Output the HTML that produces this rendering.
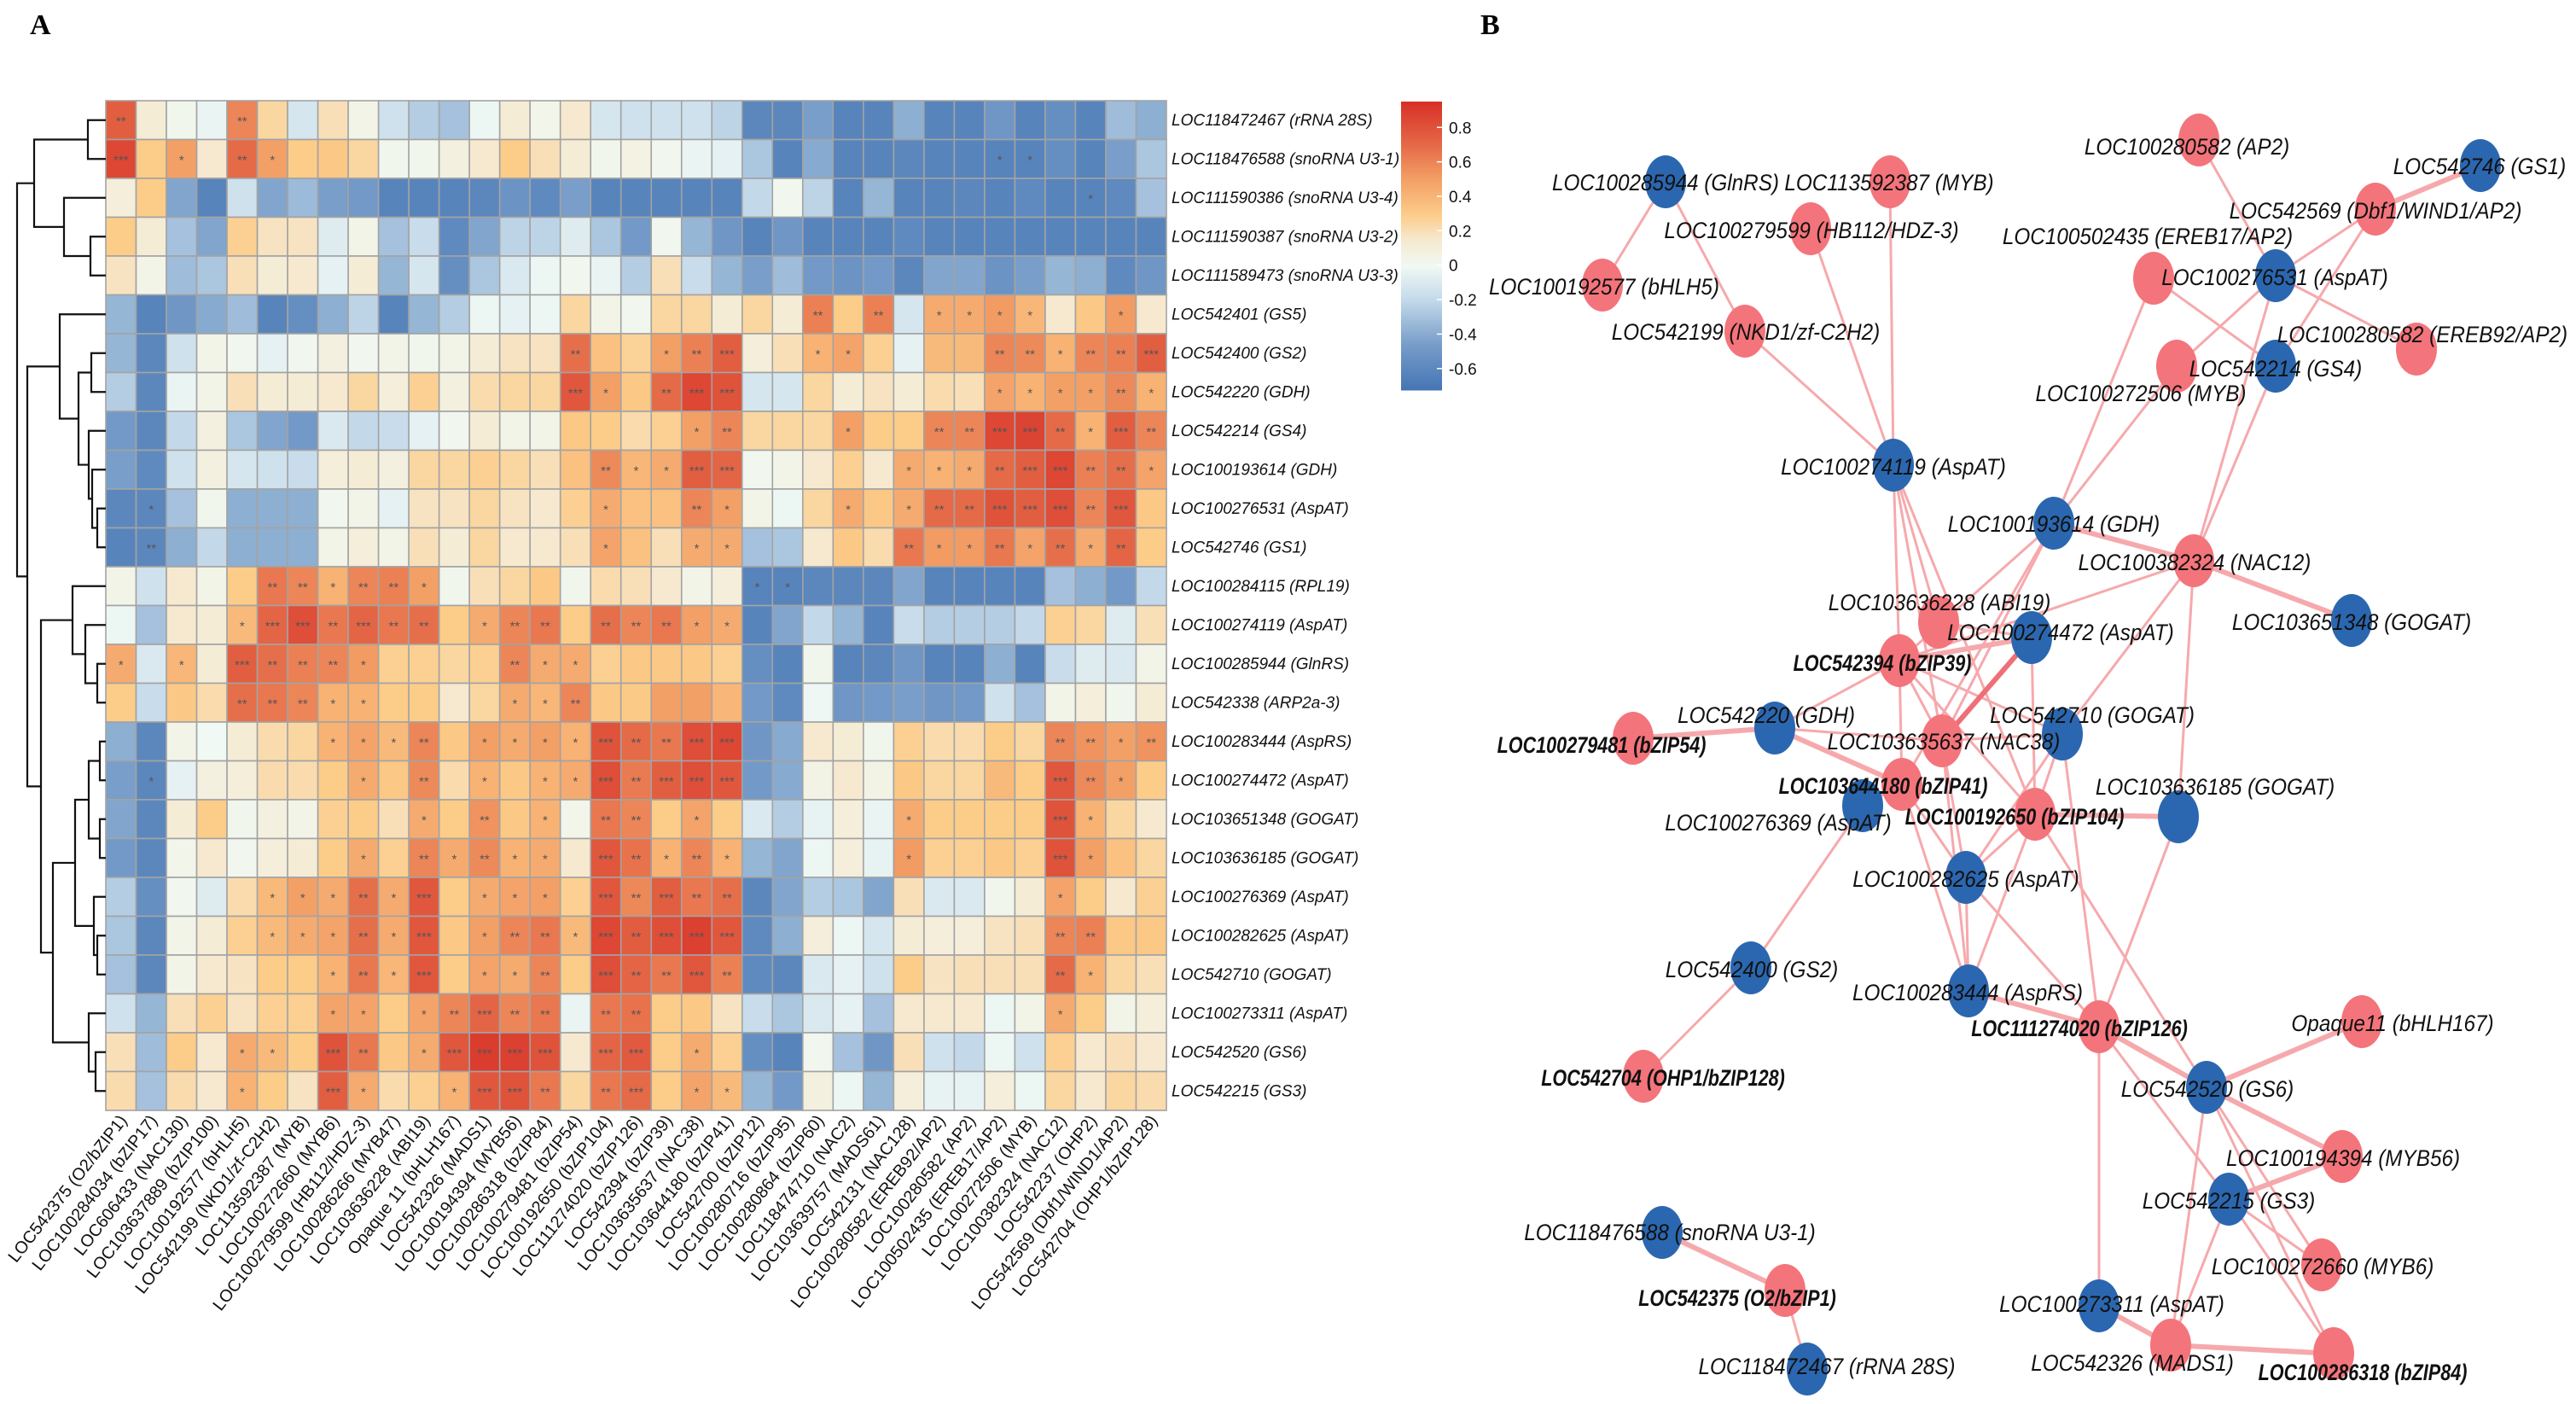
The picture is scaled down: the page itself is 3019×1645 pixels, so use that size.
<!DOCTYPE html>
<html><head><meta charset="utf-8">
<style>
html,body{margin:0;padding:0;background:#fff;}
svg{display:block;}
text{font-family:"Liberation Sans",Arial,sans-serif;}
</style></head>
<body>
<svg id="fig" width="3019" height="1645" viewBox="0 0 3019 1645" xmlns="http://www.w3.org/2000/svg">
<text x="35" y="40" style="font-family:'Liberation Serif',serif" font-weight="bold" font-size="34">A</text>
<text x="1735" y="40" style="font-family:'Liberation Serif',serif" font-weight="bold" font-size="34">B</text>
<g id="heat"></g>
<g id="dendro"></g>
<g id="cbar"></g>
<g id="net"></g>
</svg>
<script>
const rowLabels=["LOC118472467 (rRNA 28S)","LOC118476588 (snoRNA U3-1)","LOC111590386 (snoRNA U3-4)","LOC111590387 (snoRNA U3-2)","LOC111589473 (snoRNA U3-3)","LOC542401 (GS5)","LOC542400 (GS2)","LOC542220 (GDH)","LOC542214 (GS4)","LOC100193614 (GDH)","LOC100276531 (AspAT)","LOC542746 (GS1)","LOC100284115 (RPL19)","LOC100274119 (AspAT)","LOC100285944 (GlnRS)","LOC542338 (ARP2a-3)","LOC100283444 (AspRS)","LOC100274472 (AspAT)","LOC103651348 (GOGAT)","LOC103636185 (GOGAT)","LOC100276369 (AspAT)","LOC100282625 (AspAT)","LOC542710 (GOGAT)","LOC100273311 (AspAT)","LOC542520 (GS6)","LOC542215 (GS3)"];
const colLabels=["LOC542375 (O2/bZIP1)","LOC100284034 (bZIP17)","LOC606433 (NAC130)","LOC103637889 (bZIP100)","LOC100192577 (bHLH5)","LOC542199 (NKD1/zf-C2H2)","LOC113592387 (MYB)","LOC100272660 (MYB6)","LOC100279599 (HB112/HDZ-3)","LOC100286266 (MYB47)","LOC103636228 (ABI19)","Opaque 11 (bHLH167)","LOC542326 (MADS1)","LOC100194394 (MYB56)","LOC100286318 (bZIP84)","LOC100279481 (bZIP54)","LOC100192650 (bZIP104)","LOC111274020 (bZIP126)","LOC542394 (bZIP39)","LOC103635637 (NAC38)","LOC103644180 (bZIP41)","LOC542700 (bZIP12)","LOC100280716 (bZIP95)","LOC100280864 (bZIP60)","LOC118474710 (NAC2)","LOC103639757 (MADS61)","LOC542131 (NAC128)","LOC100280582 (EREB92/AP2)","LOC100280582 (AP2)","LOC100502435 (EREB17/AP2)","LOC100272506 (MYB)","LOC100382324 (NAC12)","LOC542237 (OHP2)","LOC542569 (Dbf1/WIND1/AP2)","LOC542704 (OHP1/bZIP128)"];
const heatValues=[
[0.75,0.12,0.03,-0.03,0.6,0.25,-0.12,0.2,0.05,-0.15,-0.25,-0.3,-0.02,0.12,0.04,0.15,-0.12,-0.15,-0.15,-0.15,-0.22,-0.6,-0.6,-0.45,-0.62,-0.62,-0.38,-0.62,-0.62,-0.5,-0.62,-0.55,-0.62,-0.32,-0.38],
[0.85,0.3,0.5,0.15,0.7,0.5,0.3,0.32,0.25,0.03,0.03,0.08,0.15,0.3,0.2,0.12,0.03,0.07,0.02,-0.03,-0.05,-0.28,-0.62,-0.4,-0.62,-0.62,-0.6,-0.62,-0.62,-0.62,-0.62,-0.55,-0.62,-0.45,-0.28],
[0.1,0.3,-0.42,-0.62,-0.15,-0.42,-0.33,-0.45,-0.48,-0.62,-0.62,-0.62,-0.6,-0.52,-0.58,-0.45,-0.62,-0.62,-0.62,-0.62,-0.62,-0.2,0.02,-0.22,-0.62,-0.35,-0.62,-0.62,-0.6,-0.62,-0.58,-0.62,-0.62,-0.58,-0.3],
[0.3,0.12,-0.3,-0.42,0.28,0.18,0.18,-0.08,0.05,-0.3,-0.18,-0.58,-0.42,-0.22,-0.22,-0.08,-0.28,-0.48,0.02,-0.35,-0.5,-0.62,-0.5,-0.62,-0.62,-0.62,-0.58,-0.62,-0.62,-0.62,-0.62,-0.62,-0.62,-0.62,-0.62],
[0.18,0.05,-0.32,-0.28,0.2,0.12,0.15,-0.05,0.12,-0.35,-0.12,-0.55,-0.28,-0.1,-0.02,0.02,-0.03,-0.25,0.2,-0.18,-0.35,-0.45,-0.32,-0.48,-0.52,-0.48,-0.6,-0.42,-0.42,-0.52,-0.45,-0.35,-0.38,-0.58,-0.5],
[-0.35,-0.62,-0.5,-0.4,-0.32,-0.62,-0.55,-0.38,-0.22,-0.62,-0.35,-0.25,-0.02,-0.05,-0.02,0.25,0.05,0.02,0.25,0.25,0.12,0.25,0.12,0.62,0.3,0.62,-0.12,0.45,0.45,0.52,0.4,0.15,0.32,0.52,0.15],
[-0.35,-0.6,-0.15,0.05,0.02,-0.05,0.02,0.08,0.02,0.05,0.03,0.05,0.12,0.18,0.18,0.68,0.35,0.27,0.5,0.62,0.75,0.1,0.2,0.42,0.48,0.28,-0.05,0.38,0.38,0.6,0.58,0.42,0.6,0.62,0.75],
[-0.25,-0.6,-0.03,0.05,0.2,0.12,0.12,0.15,0.25,0.1,0.28,0.08,0.22,0.25,0.25,0.78,0.5,0.32,0.7,0.85,0.8,-0.12,-0.12,0.25,0.12,0.18,0.12,0.22,0.2,0.48,0.42,0.5,0.5,0.58,0.42],
[-0.48,-0.6,-0.2,0.08,-0.28,-0.42,-0.48,-0.1,-0.2,-0.18,-0.05,0.02,0.12,0.05,0.05,0.32,0.3,0.22,0.28,0.5,0.6,0.25,0.25,0.25,0.5,0.3,0.3,0.6,0.6,0.85,0.87,0.7,0.42,0.75,0.6],
[-0.45,-0.58,-0.15,0.08,-0.12,-0.15,-0.18,0.1,0.12,0.08,0.25,0.25,0.28,0.25,0.2,0.35,0.58,0.4,0.45,0.75,0.72,0.02,0.05,0.15,0.28,0.15,0.45,0.42,0.45,0.7,0.75,0.85,0.62,0.68,0.48],
[-0.6,-0.6,-0.3,0.03,-0.38,-0.38,-0.38,0.02,0.05,-0.05,0.18,0.18,0.25,0.18,0.15,0.28,0.45,0.35,0.35,0.6,0.5,0.05,-0.02,0.25,0.45,0.32,0.45,0.7,0.7,0.8,0.75,0.82,0.6,0.78,0.32],
[-0.62,-0.6,-0.38,-0.2,-0.38,-0.38,-0.38,0.05,0.1,0.05,0.2,0.12,0.25,0.15,0.15,0.2,0.48,0.35,0.2,0.45,0.45,-0.3,-0.28,0.15,0.32,0.22,0.65,0.52,0.52,0.65,0.48,0.68,0.45,0.72,0.3],
[0.05,-0.15,0.15,0.05,0.3,0.65,0.6,0.42,0.6,0.62,0.5,0.03,0.2,0.25,0.32,0.03,0.22,0.2,0.15,0.05,0.1,-0.62,-0.62,-0.6,-0.6,-0.6,-0.42,-0.62,-0.62,-0.62,-0.62,-0.3,-0.38,-0.48,-0.2],
[-0.02,-0.3,0.15,0.12,0.38,0.72,0.82,0.65,0.72,0.65,0.68,0.3,0.45,0.6,0.65,0.3,0.68,0.6,0.65,0.5,0.45,-0.62,-0.42,-0.2,-0.35,-0.62,-0.18,-0.25,-0.25,-0.25,-0.2,0.28,0.25,-0.08,0.2],
[0.45,-0.1,0.4,0.12,0.75,0.68,0.62,0.6,0.52,0.28,0.28,0.25,0.28,0.6,0.45,0.45,0.28,0.32,0.32,0.32,0.28,-0.55,-0.62,0.03,-0.62,-0.6,-0.5,-0.62,-0.62,-0.38,-0.62,-0.18,-0.08,-0.1,0.05],
[0.3,-0.18,0.32,0.22,0.68,0.65,0.6,0.42,0.42,0.3,0.3,0.15,0.25,0.45,0.4,0.6,0.32,0.31,0.5,0.5,0.4,-0.48,-0.58,-0.01,-0.5,-0.48,-0.45,-0.5,-0.48,-0.15,-0.3,0.05,0.1,0.03,0.12],
[-0.38,-0.6,0.05,0.0,0.12,0.22,0.25,0.42,0.48,0.38,0.6,0.32,0.5,0.45,0.5,0.42,0.8,0.7,0.65,0.82,0.85,-0.5,-0.4,0.15,0.12,0.03,0.28,0.22,0.22,0.3,0.25,0.6,0.55,0.5,0.55],
[-0.45,-0.6,-0.05,0.08,0.1,0.22,0.22,0.3,0.45,0.32,0.58,0.22,0.42,0.32,0.42,0.45,0.82,0.64,0.75,0.82,0.78,-0.48,-0.4,0.06,0.15,0.06,0.32,0.25,0.25,0.38,0.3,0.78,0.58,0.5,0.3],
[-0.42,-0.6,0.12,0.3,0.03,0.08,0.05,0.28,0.3,0.2,0.45,0.3,0.55,0.32,0.42,0.04,0.65,0.6,0.3,0.48,0.3,-0.1,-0.25,-0.04,0.1,-0.03,0.45,0.3,0.3,0.3,0.3,0.8,0.42,0.25,0.15],
[-0.48,-0.6,0.04,0.15,0.02,0.1,0.12,0.3,0.45,0.28,0.6,0.45,0.58,0.42,0.45,0.15,0.78,0.67,0.42,0.6,0.42,-0.35,-0.42,-0.02,0.1,-0.04,0.52,0.28,0.28,0.32,0.28,0.8,0.5,0.35,0.25],
[-0.25,-0.55,0.02,-0.08,0.22,0.38,0.5,0.45,0.68,0.45,0.78,0.3,0.45,0.48,0.5,0.28,0.78,0.59,0.75,0.65,0.68,-0.6,-0.42,-0.25,-0.28,-0.42,0.2,-0.1,-0.1,0.03,0.12,0.48,0.3,0.15,0.28],
[-0.28,-0.6,0.05,0.12,0.28,0.38,0.45,0.48,0.68,0.45,0.78,0.32,0.5,0.6,0.65,0.38,0.85,0.76,0.82,0.88,0.78,-0.58,-0.38,0.1,-0.02,-0.12,0.12,0.1,0.1,0.18,0.2,0.6,0.62,0.32,0.32],
[-0.3,-0.6,0.05,0.15,0.18,0.3,0.3,0.42,0.65,0.4,0.78,0.3,0.48,0.45,0.6,0.3,0.82,0.72,0.65,0.78,0.62,-0.58,-0.6,-0.1,-0.05,-0.15,0.3,0.18,0.2,0.2,0.2,0.7,0.42,0.25,0.2],
[-0.15,-0.35,0.2,0.28,0.18,0.28,0.28,0.48,0.48,0.3,0.48,0.6,0.72,0.6,0.65,-0.03,0.65,0.67,0.3,0.32,0.18,-0.18,-0.28,-0.1,-0.05,-0.3,0.15,0.15,0.15,-0.02,0.05,0.45,0.3,0.05,0.1],
[0.2,-0.32,0.3,0.15,0.45,0.38,0.3,0.8,0.65,0.32,0.45,0.78,0.9,0.88,0.8,0.15,0.72,0.77,0.3,0.45,0.28,-0.55,-0.62,0.02,-0.3,-0.5,0.2,-0.15,-0.2,-0.02,-0.15,0.28,0.15,0.2,0.15],
[0.22,-0.3,0.22,0.15,0.42,0.3,0.18,0.75,0.45,0.22,0.28,0.42,0.78,0.8,0.65,0.25,0.65,0.7,0.3,0.48,0.38,-0.35,-0.48,0.08,-0.02,-0.35,0.1,-0.04,-0.04,0.1,-0.02,0.25,0.15,0.25,0.22]];
const starCodes=[
"20002000000000000000000000000000000","30102100000000000000000000000110000","00000000000000000000000000000000100",
"00000000000000000000000000000000000","00000000000000000000000000000000000","00000000000000000000000202011110010",
"00000000000000020012300110000221223","00000000000000031023300000000111121","00000000000000000001200010022332132",
"00000000000000002113300000111233221","01000000000000001002100010122333230","02000000000000001001100000211212120",
"00000221221000000000011000000000000","00001332322012202221100000000000000","10103222100002110000000000000000000",
"00002221100001120000000000000000000","00000001112011113223300000000002212","01000000102010113233300000000003210",
"00000000001020102201000000100003100","00000000102121103212100000100003100","00000111213011103232200000000001000",
"00000111213012213233300000000002200","00000001213011203223200000000002100","00000001101232202200000000000001000",
"00001103201333303301000000000000000","00001003100133202301100000000000000"];
const cbTicks=[0.8,0.6,0.4,0.2,0,-0.2,-0.4,-0.6];
const vMin=-0.72, vMax=0.95;
const NS="http://www.w3.org/2000/svg";
function mk(tag,attrs,parent){const e=document.createElementNS(NS,tag);for(const k in attrs)e.setAttribute(k,attrs[k]);if(parent)parent.appendChild(e);return e;}
const stops=[[-0.72,[69,117,180]],[-0.45,[120,158,201]],[-0.2,[195,217,234]],[0,[240,249,244]],[0.15,[246,233,207]],[0.3,[252,204,137]],[0.5,[243,160,102]],[0.7,[229,106,72]],[0.95,[215,48,39]]];
function color(v){v=Math.max(stops[0][0],Math.min(stops[stops.length-1][0],v));for(let i=0;i<stops.length-1;i++){const a=stops[i],b=stops[i+1];if(v<=b[0]){const t=(v-a[0])/(b[0]-a[0]);const c=a[1].map((x,j)=>Math.round(x+(b[1][j]-x)*t));return `rgb(${c[0]},${c[1]},${c[2]})`;}}return "rgb(215,48,39)";}
const gx0=124, gy0=118, cw=(1367-124)/35, rh=(1301-118)/26;
const xCol=i=>gx0+i*cw, yRow=j=>gy0+j*rh;
const heat=document.getElementById('heat');
heatValues.forEach((row,j)=>{row.forEach((v,i)=>{
  const r=mk('rect',{x:xCol(i),y:yRow(j),width:cw,height:rh,fill:color(v),stroke:'#a3a3a3','stroke-width':1.6},heat);
  
  
  const s=+starCodes[j][i];
  if(s>0){const t=mk('text',{x:xCol(i)+cw/2,y:yRow(j)+rh/2+6,'text-anchor':'middle','font-size':15,fill:'#555'},heat);t.textContent='*'.repeat(s);
    
    }
});});
rowLabels.forEach((l,j)=>{const t=mk('text',{x:1373,y:yRow(j)+rh/2+6,'font-size':19,'font-style':'italic',fill:'#111'},heat);t.textContent=l;
  
  });
colLabels.forEach((l,i)=>{const cx=xCol(i)+cw/2+8, cy=1313;const t=mk('text',{x:0,y:0,'font-size':20,'text-anchor':'end',fill:'#111',transform:`translate(${cx},${cy}) rotate(-52)`},heat);t.textContent=l;
  
  });
const merges=[[0,1,103],[3,4,106],[2,27,75],[26,28,40],[6,7,107],[10,11,114],[9,31,108],[8,32,104],[30,33,92],[5,34,70],[14,15,114],[13,36,100],[12,37,85],[16,17,117],[18,19,117],[39,40,104],[21,22,114],[20,42,110],[41,43,88],[24,25,112],[23,45,104],[44,46,62],[38,47,48],[35,48,32],[29,49,20]];
const dg=document.getElementById('dendro');
const pos={};for(let j=0;j<26;j++)pos[j]=[gx0,yRow(j)+rh/2];
merges.forEach((m,k)=>{const a=pos[m[0]],b=pos[m[1]],x=m[2];
  const p=mk('path',{d:`M${a[0]},${a[1]}H${x}V${b[1]}H${b[0]}`,fill:'none',stroke:'#111','stroke-width':2.2},dg);
  
  
  pos[26+k]=[x,(a[1]+b[1])/2];});
const cb=document.getElementById('cbar');
const cbX=1642,cbW=48,cbTop=119,cbBot=456;
const yCb=v=>cbTop+(vMax-v)/(vMax-vMin)*(cbBot-cbTop);
for(let y=cbTop;y<cbBot;y+=2){const v=vMax-(y-cbTop)/(cbBot-cbTop)*(vMax-vMin);mk('rect',{x:cbX,y:y,width:cbW,height:2.5,fill:color(v)},cb);}
cbTicks.forEach(v=>{const y=yCb(v);mk('line',{x1:cbX+cbW-6,x2:cbX+cbW,y1:y,y2:y,stroke:'#fff','stroke-width':1.5},cb);
  const t=mk('text',{x:cbX+cbW+8,y:y+7,'font-size':19,fill:'#111'},cb);t.textContent=String(v);
  
  });
const nodeNames=["LOC100285944 (GlnRS)","LOC113592387 (MYB)","LOC100279599 (HB112/HDZ-3)","LOC100192577 (bHLH5)","LOC542199 (NKD1/zf-C2H2)","LOC100280582 (AP2)","LOC542746 (GS1)","LOC542569 (Dbf1/WIND1/AP2)","LOC100502435 (EREB17/AP2)","LOC100276531 (AspAT)","LOC100280582 (EREB92/AP2)","LOC542214 (GS4)","LOC100272506 (MYB)","LOC100274119 (AspAT)","LOC100193614 (GDH)","LOC100382324 (NAC12)","LOC103651348 (GOGAT)","LOC103636228 (ABI19)","LOC100274472 (AspAT)","LOC542394 (bZIP39)","LOC542220 (GDH)","LOC100279481 (bZIP54)","LOC103635637 (NAC38)","LOC542710 (GOGAT)","LOC103644180 (bZIP41)","LOC100276369 (AspAT)","LOC100192650 (bZIP104)","LOC103636185 (GOGAT)","LOC100282625 (AspAT)","LOC542400 (GS2)","LOC100283444 (AspRS)","LOC111274020 (bZIP126)","Opaque11 (bHLH167)","LOC542704 (OHP1/bZIP128)","LOC542520 (GS6)","LOC100194394 (MYB56)","LOC542215 (GS3)","LOC118476588 (snoRNA U3-1)","LOC542375 (O2/bZIP1)","LOC100272660 (MYB6)","LOC100273311 (AspAT)","LOC542326 (MADS1)","LOC100286318 (bZIP84)","LOC118472467 (rRNA 28S)"];
const nodeType="brrrrrbrrbrbrbbrbrbrbrrbrbrbbbbrrrbrbbrrbrrb";
const nodeBold=[19,21,24,26,31,33,38,42];
const nodeX=[1952,2215,2122,1878,2045,2577,2907,2784,2524,2667,2832,2667,2551,2219,2407,2571,2756,2272,2381,2226,2080,1914,2276,2417,2229,2183,2385,2553,2304,2052,2307,2460,2768,1926,2586,2745,2612,1948,2092,2721,2460,2544,2735,2118];
const nodeY=[213,213,268,334,388,164,194,245,326,323,409,429,429,545,613,657,727,729,747,774,853,865,868,860,919,944,954,957,1028,1134,1161,1203,1197,1261,1274,1355,1405,1444,1512,1482,1530,1576,1586,1604];
const labelX=[1952,2214,2123,1880,2046,2563,2906,2784,2517,2666,2839,2667,2509,2219,2407,2572,2756,2273,2415,2206,2070,1877,2278,2452,2207,2084,2361,2596,2304,2053,2306,2437,2804,1949,2587,2746,2612,1957,2036,2722,2475,2499,2769,2141];
const labelY=[213,213,269,335,388,171,194,246,276,324,391,431,460,546,613,658,728,705,740,776,837,872,868,837,920,963,956,921,1029,1135,1162,1204,1198,1262,1275,1356,1406,1443,1520,1483,1527,1596,1607,1600];
const edgesThin=[[0,3],[0,4],[1,13],[2,13],[4,13],[5,9],[7,9],[7,11],[8,11],[8,14],[9,10],[9,12],[9,15],[11,15],[12,14],[13,19],[13,17],[13,22],[13,26],[14,24],[14,22],[14,19],[15,19],[15,23],[15,27],[19,20],[19,22],[19,24],[19,23],[19,26],[20,22],[18,26],[22,23],[22,28],[22,30],[23,26],[23,31],[23,28],[24,25],[24,28],[24,30],[25,29],[26,28],[26,30],[26,34],[28,31],[28,30],[29,33],[31,36],[31,40],[27,31],[34,39],[34,42],[34,41],[36,39],[36,42],[36,41],[38,43],[17,18]];
const edgesThick=[[6,7],[14,15],[15,16],[18,19],[20,21],[20,24],[18,22],[26,27],[30,31],[31,34],[32,34],[34,35],[36,35],[40,41],[41,42],[37,38]];
const net=document.getElementById('net');
const eg=mk('g',{},net);
edgesThin.forEach(e=>{const l=mk('line',{x1:nodeX[e[0]],y1:nodeY[e[0]],x2:nodeX[e[1]],y2:nodeY[e[1]],stroke:'#f6a9ac','stroke-width':3},eg);
  
  });
edgesThick.forEach(e=>{const l=mk('line',{x1:nodeX[e[0]],y1:nodeY[e[0]],x2:nodeX[e[1]],y2:nodeY[e[1]],stroke:e[0]===18&&e[1]===22?'#ee6f76':'#f6a9ac','stroke-width':6},eg);
  
  });
nodeNames.forEach((n,i)=>{const c=mk('ellipse',{cx:nodeX[i],cy:nodeY[i],rx:24,ry:31,fill:nodeType[i]==='b'?'#2b67b0':'#f4747b'},net);
  
  });
nodeNames.forEach((n,i)=>{const bold=nodeBold.includes(i);
  const t=mk('text',{x:0,y:0,'text-anchor':'middle','font-size':27,'font-style':'italic','font-weight':bold?'bold':'normal',fill:'#111',transform:`translate(${labelX[i]},${labelY[i]+10}) scale(${bold?0.8:0.9},1)`},net);
  t.textContent=n;
  
  });
</script>
</body></html>
